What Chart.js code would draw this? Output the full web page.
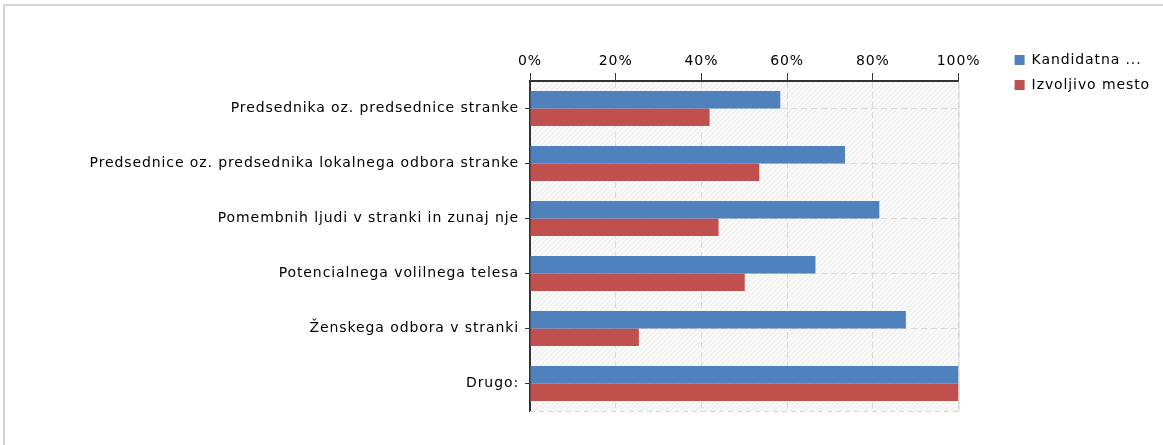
<!DOCTYPE html>
<html>
<head>
<meta charset="utf-8">
<script src="https://cdn.jsdelivr.net/npm/chart.js@4"></script>
<style>
html,body{margin:0;padding:0;background:#fff;overflow:hidden;}
canvas{display:block;}
</style>
</head>
<body>
<canvas id="c" width="1163" height="445"></canvas>
<script>
const categories = [
  "Predsednika oz. predsednice stranke",
  "Predsednice oz. predsednika lokalnega odbora stranke",
  "Pomembnih ljudi v stranki in zunaj nje",
  "Potencialnega volilnega telesa",
  "Ženskega odbora v stranki",
  "Drugo:"
];
const seriesNames = ["Kandidatna ...", "Izvoljivo mesto"];
const kandidatna = [58.4, 73.5, 81.5, 66.6, 87.7, 100];
const izvoljivo = [41.9, 53.5, 44.0, 50.1, 25.4, 100];
const tickValues = [0, 20, 40, 60, 80, 100];

const FONT = "'DejaVu Sans', sans-serif";
const FSIZE = 14;
const SPACING = '0.9px';

const spacingPlugin = {
  id: 'letterSpacing',
  beforeInit(chart) { chart.ctx.letterSpacing = SPACING; },
  beforeUpdate(chart) { chart.ctx.letterSpacing = SPACING; },
  beforeLayout(chart) { chart.ctx.letterSpacing = SPACING; },
  beforeDraw(chart) { chart.ctx.letterSpacing = SPACING; }
};

const bgPlugin = {
  id: 'hatchBg',
  beforeDraw(chart) {
    const {ctx, chartArea: a} = chart;
    ctx.save();
    // outer frame (top and left edges)
    ctx.fillStyle = '#d2d2d2';
    ctx.fillRect(3, 4, chart.width - 3, 2);
    ctx.fillRect(3, 4, 2, chart.height - 4);
    ctx.fillStyle = '#f9f9f9';
    ctx.fillRect(a.left, a.top, a.right - a.left, a.bottom - a.top);
    ctx.beginPath();
    ctx.rect(a.left, a.top, a.right - a.left, a.bottom - a.top);
    ctx.clip();
    ctx.strokeStyle = '#e9e9e9';
    ctx.lineWidth = 1;
    const h = a.bottom - a.top;
    for (let x = a.left - h; x < a.right + h; x += 5) {
      ctx.beginPath();
      ctx.moveTo(x, a.bottom);
      ctx.lineTo(x + h, a.top);
      ctx.stroke();
    }
    ctx.restore();
  },
  afterDraw(chart) {
    const {ctx, chartArea: a} = chart;
    ctx.save();
    ctx.strokeStyle = '#d6d6d6';
    ctx.setLineDash([5, 4]);
    ctx.beginPath();
    ctx.moveTo(a.left, a.bottom + 0.5);
    ctx.lineTo(a.right, a.bottom + 0.5);
    ctx.stroke();
    ctx.setLineDash([]);
    ctx.beginPath();
    ctx.moveTo(a.right + 0.5, a.top);
    ctx.lineTo(a.right + 0.5, a.bottom);
    ctx.stroke();
    ctx.restore();
  }
};

new Chart(document.getElementById('c'), {
  type: 'bar',
  data: {
    labels: categories,
    datasets: [
      {label: seriesNames[0], data: kandidatna, backgroundColor: '#4F81BD', categoryPercentage: 0.64, barPercentage: 1.0},
      {label: seriesNames[1], data: izvoljivo, backgroundColor: '#C0504D', categoryPercentage: 0.64, barPercentage: 1.0}
    ]
  },
  options: {
    indexAxis: 'y',
    responsive: false,
    animation: false,
    devicePixelRatio: 1,
    layout: {padding: {top: 42, bottom: 34, left: 0, right: 3}},
    plugins: {
      tooltip: {enabled: false},
      legend: {
        position: 'right',
        align: 'start',
        labels: {
          boxWidth: 10, boxHeight: 10, padding: 11,
          color: '#000',
          font: {family: FONT, size: FSIZE}
        }
      }
    },
    scales: {
      x: {
        position: 'top',
        min: 0, max: 100,
        afterBuildTicks(s) { s.ticks = tickValues.map(v => ({value: v})); },
        afterFit(s) { s.height = 39; },
        ticks: {
          callback: v => v + '%',
          color: '#000',
          padding: 3,
          font: {family: FONT, size: FSIZE}
        },
        grid: {
          color: '#d9d9d9',
          lineWidth: 1,
          tickColor: '#333',
          tickLength: 8,
          drawTicks: true
        },
        border: {display: true, color: '#333', width: 2, dash: [6, 4]}
      },
      y: {
        afterFit(s) { s.width = 530; },
        ticks: {
          color: '#000',
          padding: 6,
          font: {family: FONT, size: FSIZE}
        },
        grid: {
          offset: false,
          color: '#d9d9d9',
          tickColor: '#333',
          tickLength: 5
        },
        border: {display: true, color: '#333', width: 2, dash: [6, 4]}
      },
      spacer: {
        type: 'linear',
        position: 'right',
        display: true,
        afterFit(s) { s.width = 45; },
        ticks: {display: false},
        grid: {display: false, drawTicks: false},
        border: {display: false}
      }
    }
  },
  plugins: [spacingPlugin, bgPlugin]
});
</script>
</body>
</html>
